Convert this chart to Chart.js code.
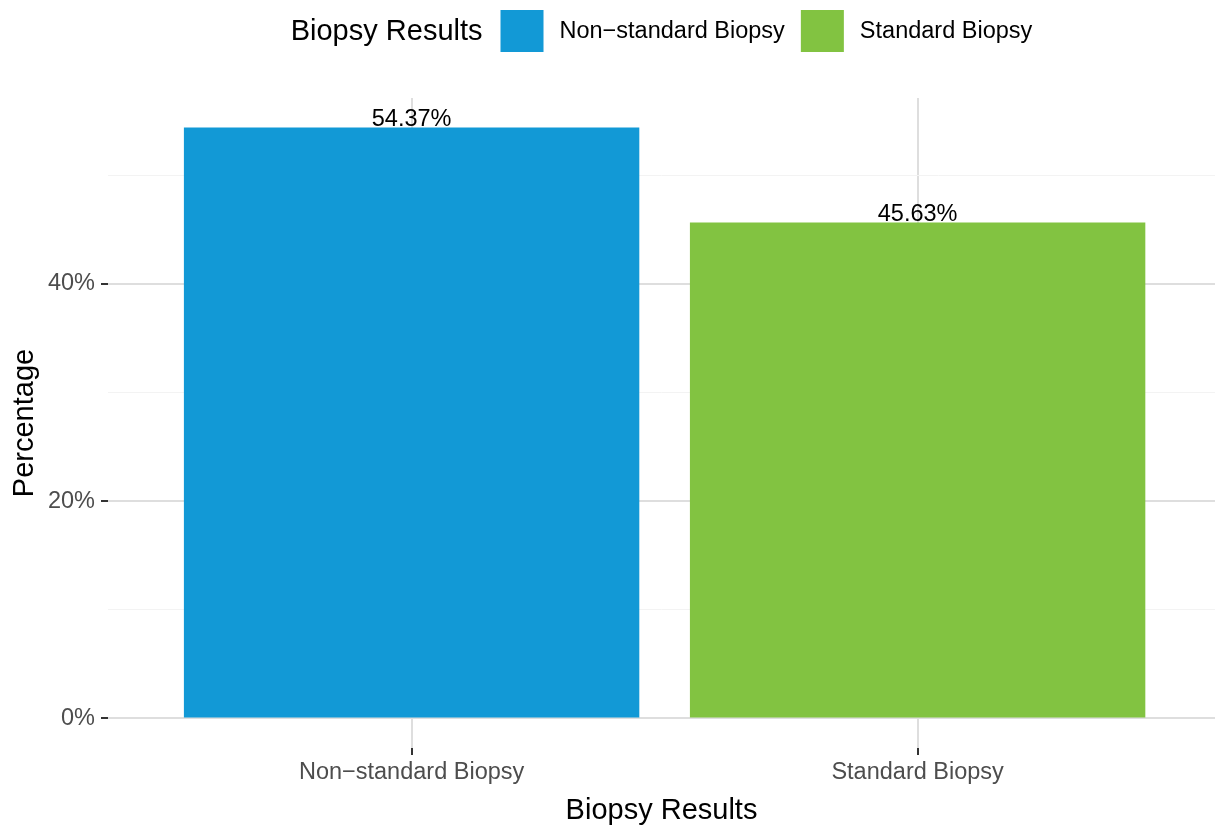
<!DOCTYPE html>
<html>
<head>
<meta charset="utf-8">
<script src="https://cdn.jsdelivr.net/npm/chart.js@4.4.0/dist/chart.umd.min.js"></script>
<style>
  html, body { margin: 0; padding: 0; background: #ffffff; overflow: hidden; }
  #chart { display: block; }
</style>
</head>
<body>
<canvas id="chart" width="1215" height="825"></canvas>
<script>
// Biopsy result shares
const categories = ['Non\u2212standard Biopsy', 'Standard Biopsy'];
const percentages = [54.37, 45.63];
const barColors = ['#1299D6', '#82C341'];
const yTickValues = [0, 10, 20, 30, 40, 50];
const yLabelledTicks = [0, 20, 40];
const legendTitle = 'Biopsy Results';
const xTitle = 'Biopsy Results';
const yTitle = 'Percentage';

const FONT = "'Liberation Sans', Arial, Helvetica, sans-serif";

// y range padded by 5% of the data span on both sides
const yMax = Math.max(...percentages);
const yMin = 0;
const ySpan = yMax - yMin;

// value labels above each bar
const valueLabels = {
  id: 'valueLabels',
  afterDatasetsDraw(chart) {
    const { ctx } = chart;
    const meta = chart.getDatasetMeta(0);
    ctx.save();
    ctx.font = `23.5px ${FONT}`;
    ctx.fillStyle = '#000000';
    ctx.textAlign = 'center';
    ctx.textBaseline = 'alphabetic';
    meta.data.forEach((bar, i) => {
      ctx.fillText(percentages[i].toFixed(2) + '%', bar.x, bar.y - 2);
    });
    ctx.restore();
  }
};

// horizontal legend with an inline title, centred over the plot panel
const inlineLegend = {
  id: 'inlineLegend',
  afterDraw(chart) {
    const { ctx, chartArea } = chart;
    const keyW = 43, keyH = 42, gapAfterTitle = 18, gapAfterKey = 16, gapBetween = 16;
    const cy = 31;
    ctx.save();
    ctx.textBaseline = 'middle';
    ctx.textAlign = 'left';
    ctx.font = `29px ${FONT}`;
    const titleW = ctx.measureText(legendTitle).width;
    ctx.font = `23.5px ${FONT}`;
    const itemWs = categories.map(c => ctx.measureText(c).width);
    let total = titleW + gapAfterTitle;
    itemWs.forEach((w, i) => {
      total += keyW + gapAfterKey + w + (i < itemWs.length - 1 ? gapBetween : 0);
    });
    let x = (chartArea.left + chartArea.right) / 2 - total / 2;
    ctx.fillStyle = '#000000';
    ctx.font = `29px ${FONT}`;
    ctx.fillText(legendTitle, x, cy + 1);
    x += titleW + gapAfterTitle;
    ctx.font = `23.5px ${FONT}`;
    categories.forEach((c, i) => {
      ctx.fillStyle = barColors[i];
      ctx.fillRect(x, cy - keyH / 2, keyW, keyH);
      x += keyW + gapAfterKey;
      ctx.fillStyle = '#000000';
      ctx.fillText(c, x, cy + 1);
      x += itemWs[i] + gapBetween;
    });
    ctx.restore();
  }
};

const isMajor = v => yLabelledTicks.includes(v);

new Chart(document.getElementById('chart'), {
  type: 'bar',
  data: {
    datasets: [{
      label: legendTitle,
      data: categories.map((c, i) => ({ x: i + 1, y: percentages[i] })),
      backgroundColor: barColors,
      borderWidth: 0,
      barPercentage: 0.9,
      categoryPercentage: 1.0
    }]
  },
  options: {
    responsive: false,
    animation: false,
    devicePixelRatio: 1,
    layout: { padding: { top: 98, left: 0, right: 0, bottom: 0 } },
    plugins: {
      legend: { display: false },
      tooltip: { enabled: false }
    },
    scales: {
      x: {
        type: 'linear',
        min: 0.4,
        max: 2.5877,
        offset: false,
        afterBuildTicks: scale => { scale.ticks = categories.map((c, i) => ({ value: i + 1 })); },
        afterFit: scale => { scale.height = 77; },
        border: { display: false },
        grid: {
          offset: false,
          color: '#DEDEDE',
          lineWidth: 2,
          drawTicks: true,
          tickLength: 7,
          tickColor: '#333333',
          tickWidth: 2
        },
        ticks: {
          callback: v => categories[v - 1],
          color: '#4D4D4D',
          font: { family: FONT, size: 23.5 },
          padding: 3,
          maxRotation: 0,
          autoSkip: false
        },
        title: {
          display: true,
          text: xTitle,
          color: '#000000',
          font: { family: FONT, size: 29, lineHeight: 1.0 },
          padding: { top: 0, bottom: 0 }
        }
      },
      y: {
        type: 'linear',
        min: yMin - 0.05 * ySpan,
        max: yMax + 0.05 * ySpan,
        afterBuildTicks: scale => { scale.ticks = yTickValues.map(v => ({ value: v })); },
        afterFit: scale => { scale.width = 108; },
        border: { display: false },
        grid: {
          color: ctx => isMajor(ctx.tick.value) ? '#DEDEDE' : '#F3F3F3',
          lineWidth: ctx => isMajor(ctx.tick.value) ? 2 : 1,
          drawTicks: true,
          tickLength: 7,
          tickColor: ctx => isMajor(ctx.tick.value) ? '#333333' : 'rgba(0,0,0,0)',
          tickWidth: 2
        },
        ticks: {
          callback: v => isMajor(v) ? v + '%' : '',
          color: '#4D4D4D',
          font: { family: FONT, size: 23.5 },
          padding: 6,
          autoSkip: false
        },
        title: {
          display: true,
          text: yTitle,
          color: '#000000',
          font: { family: FONT, size: 29 },
          padding: { top: 8, bottom: 0 }
        }
      }
    }
  },
  plugins: [valueLabels, inlineLegend]
});
</script>
</body>
</html>
